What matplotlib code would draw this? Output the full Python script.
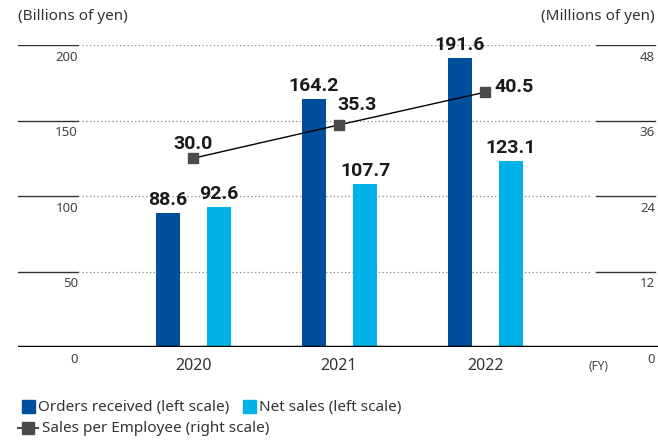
import numpy as np
import matplotlib.pyplot as plt
from matplotlib.patches import Rectangle
from matplotlib.lines import Line2D

# datos
years = ['2020', '2021', '2022']
orders = [88.6, 164.2, 191.6]
net_sales = [92.6, 107.7, 123.1]
per_employee = [30.0, 35.3, 40.5]
left_ticks = [0, 50, 100, 150, 200]
right_ticks = [0, 12, 24, 36, 48]

dark = '#004f9c'
light = '#00b2e7'
grey = '#4d4a4a'

plt.rcParams['font.family'] = ['Noto Sans', 'DejaVu Sans']

W, H = 658, 443
fig = plt.figure(figsize=(W / 100, H / 100), dpi=100)

def fx(px):
    return px / W

def fy(py):
    return 1 - py / H

x0, x1, ytop, ybot = 18, 658, 45, 347
ax = fig.add_axes([fx(x0), fy(ybot), fx(x1 - x0), (ybot - ytop) / H])
ax.set_ylim(0, 200)
step = 146
ax.set_xlim((x0 - 193) / step, (x1 - 193) / step)
ax.axis('off')

ax2 = ax.twinx()
ax2.set_ylim(0, 48)
ax2.axis('off')

x = np.arange(len(years))
w = 24 / step
xo = x - 25 / step
xn = x + 26 / step

# lineas de referencia
span = x1 - x0
for t in left_ticks[1:]:
    ax.axhline(t, 0, (78 - x0) / span, color='#333333', lw=1)
    ax.axhline(t, (82 - x0) / span, (592 - x0) / span, color='#8a8a8a', lw=0.9, ls=(0, (1, 2)))
    ax.axhline(t, (596 - x0) / span, (655 - x0) / span, color='#333333', lw=1)
ax.axhline(0, color='black', lw=2.5, zorder=5)

ax.bar(xo, orders, w, color=dark, zorder=3)
ax.bar(xn, net_sales, w, color=light, zorder=3)
ax2.plot(x, per_employee, color='black', lw=1, marker='s', ms=7,
         mfc=grey, mec=grey, zorder=4)

bold = dict(fontsize=14, fontweight='bold', color='#1a1a1a', family='Roboto',
            textcoords='offset points')
for i in range(3):
    ax.annotate(f'{orders[i]:.1f}', (xo[i], orders[i]), xytext=(0, 3),
                ha='center', va='bottom', **bold)
    ax.annotate(f'{net_sales[i]:.1f}', (xn[i], net_sales[i]), xytext=(0, 3),
                ha='center', va='bottom', **bold)
ax2.annotate(f'{per_employee[0]:.1f}', (x[0], per_employee[0]), xytext=(0, 4),
             ha='center', va='bottom', **bold)
ax2.annotate(f'{per_employee[1]:.1f}', (x[1], per_employee[1]), xytext=(-1, 8),
             ha='left', va='bottom', **bold)
ax2.annotate(f'{per_employee[2]:.1f}', (x[2], per_employee[2]), xytext=(7, 4),
             ha='left', va='center', **bold)

# etiquetas de ejes
tk = dict(ha='right', va='top', fontsize=9.5, color='#444444',
          textcoords='offset points', xytext=(0, -4))
for t in left_ticks:
    ax.annotate(str(t), ((78 - x0) / span, t), xycoords=ax.get_yaxis_transform(), **tk)
for t in right_ticks:
    ax2.annotate(str(t), ((655 - x0) / span, t), xycoords=ax2.get_yaxis_transform(), **tk)

for i, yr in enumerate(years):
    ax.text(x[i], -0.035, yr, transform=ax.get_xaxis_transform(), ha='center', va='top',
            fontsize=11.5, color='#333333')
fig.text(fx(598), fy(366), '(FY)', ha='center', va='center', fontsize=8.5, color='#444444')

fig.text(fx(18), fy(17), '(Billions of yen)', ha='left', va='center', fontsize=11, color='#333333')
fig.text(fx(655), fy(17), '(Millions of yen)', ha='right', va='center', fontsize=11, color='#333333')

# leyenda
fig.add_artist(Rectangle((fx(22), fy(413)), fx(13), 13 / H, color=dark, transform=fig.transFigure))
fig.text(fx(38), fy(407), 'Orders received (left scale)', va='center', fontsize=11, color='#333333')
fig.add_artist(Rectangle((fx(243), fy(413)), fx(13), 13 / H, color=light, transform=fig.transFigure))
fig.text(fx(259), fy(407), 'Net sales (left scale)', va='center', fontsize=11, color='#333333')
fig.add_artist(Line2D([fx(18), fx(38)], [fy(428), fy(428)], color=grey, lw=1.5,
                      transform=fig.transFigure))
fig.add_artist(Line2D([fx(28)], [fy(428)], color=grey, marker='s', ms=8, ls='none',
                      transform=fig.transFigure))
fig.text(fx(42), fy(428), 'Sales per Employee (right scale)', va='center', fontsize=11, color='#333333')

fig.savefig('out.png', dpi=100)
